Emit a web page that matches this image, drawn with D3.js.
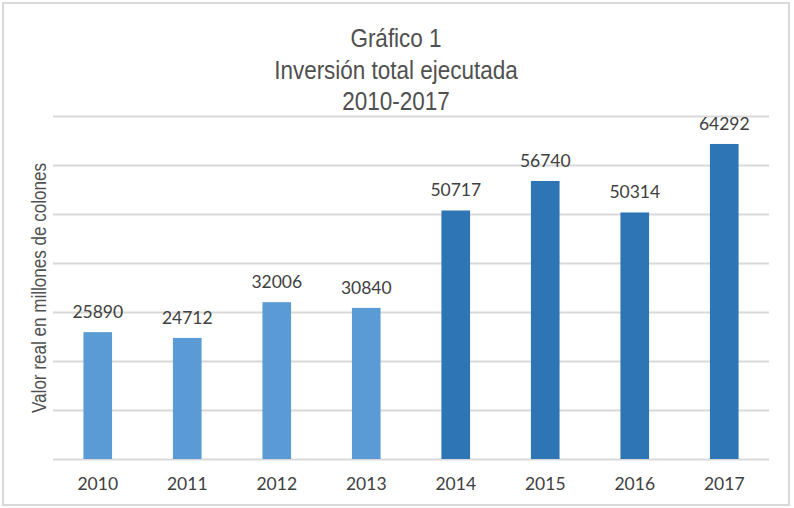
<!DOCTYPE html>
<html><head><meta charset="utf-8">
<script src="https://cdn.jsdelivr.net/npm/d3@7"></script>
<style>
body{margin:0;background:#fff;}
svg{display:block;}
</style></head>
<body>
<script>
const years = ["2010","2011","2012","2013","2014","2015","2016","2017"];
const values = [25890,24712,32006,30840,50717,56740,50314,64292];
const barColors = ["#5B9BD5","#5B9BD5","#5B9BD5","#5B9BD5","#2E75B6","#2E75B6","#2E75B6","#2E75B6"];
const gridTicks = [0,10000,20000,30000,40000,50000,60000,70000];
const titleLines = ["Gráfico 1","Inversión total ejecutada","2010-2017"];
const yTitle = "Valor real en millones de colones";

const W=794,H=508;
const svg=d3.select("body").append("svg").attr("width",W).attr("height",H);
svg.append("rect").attr("x",3).attr("y",3).attr("width",786).attr("height",502)
  .attr("fill","#fff").attr("stroke","#d9d9d9").attr("stroke-width",2);

const x=d3.scaleBand().domain(years).range([53,769]).paddingInner(0.68).paddingOuter(0.34);
const y=d3.scaleLinear().domain([0,70000]).range([459,116]);

const titleFont='"Liberation Sans",Arial,sans-serif';
svg.append("g").selectAll("text").data(titleLines).join("text")
  .attr("transform",(d,i)=>`translate(396,${47+i*31.5}) scale(0.9,1)`)
  .attr("text-anchor","middle").attr("font-family",titleFont)
  .attr("font-size",25).attr("fill","#505050").text(d=>d);

// grid
const ga=svg.append("g").call(d3.axisLeft(y).tickValues(gridTicks).tickSize(-(769-53)).tickFormat(""))
  .attr("transform","translate(53,0)");
ga.select(".domain").remove();
ga.selectAll("line").attr("stroke","#d9d9d9").attr("stroke-width",2);

svg.append("g").selectAll("rect").data(values).join("rect")
  .attr("x",(d,i)=>x(years[i])).attr("width",x.bandwidth())
  .attr("y",d=>y(d)).attr("height",d=>y(0)-y(d)).attr("fill",(d,i)=>barColors[i]);

const labFont='Lato,"Open Sans",sans-serif';
svg.append("g").selectAll("text").data(values).join("text")
  .attr("x",(d,i)=>x(years[i])+x.bandwidth()/2).attr("y",d=>y(d)-14)
  .attr("text-anchor","middle").attr("font-family",labFont).attr("font-size",17.5)
  .attr("fill","#404040").text(d=>d);

const xa=svg.append("g").attr("transform","translate(0,459)").call(d3.axisBottom(x).tickSize(0).tickPadding(19));
xa.select(".domain").remove();
xa.selectAll("text").attr("font-family",labFont).attr("font-size",17.5).attr("fill","#404040");

svg.append("text").attr("transform","translate(46,288) rotate(-90)")
  .attr("text-anchor","middle").attr("font-family",titleFont).attr("font-size",21)
  .attr("textLength",250).attr("lengthAdjust","spacingAndGlyphs")
  .attr("fill","#505050").text(yTitle);
</script>
</body></html>
